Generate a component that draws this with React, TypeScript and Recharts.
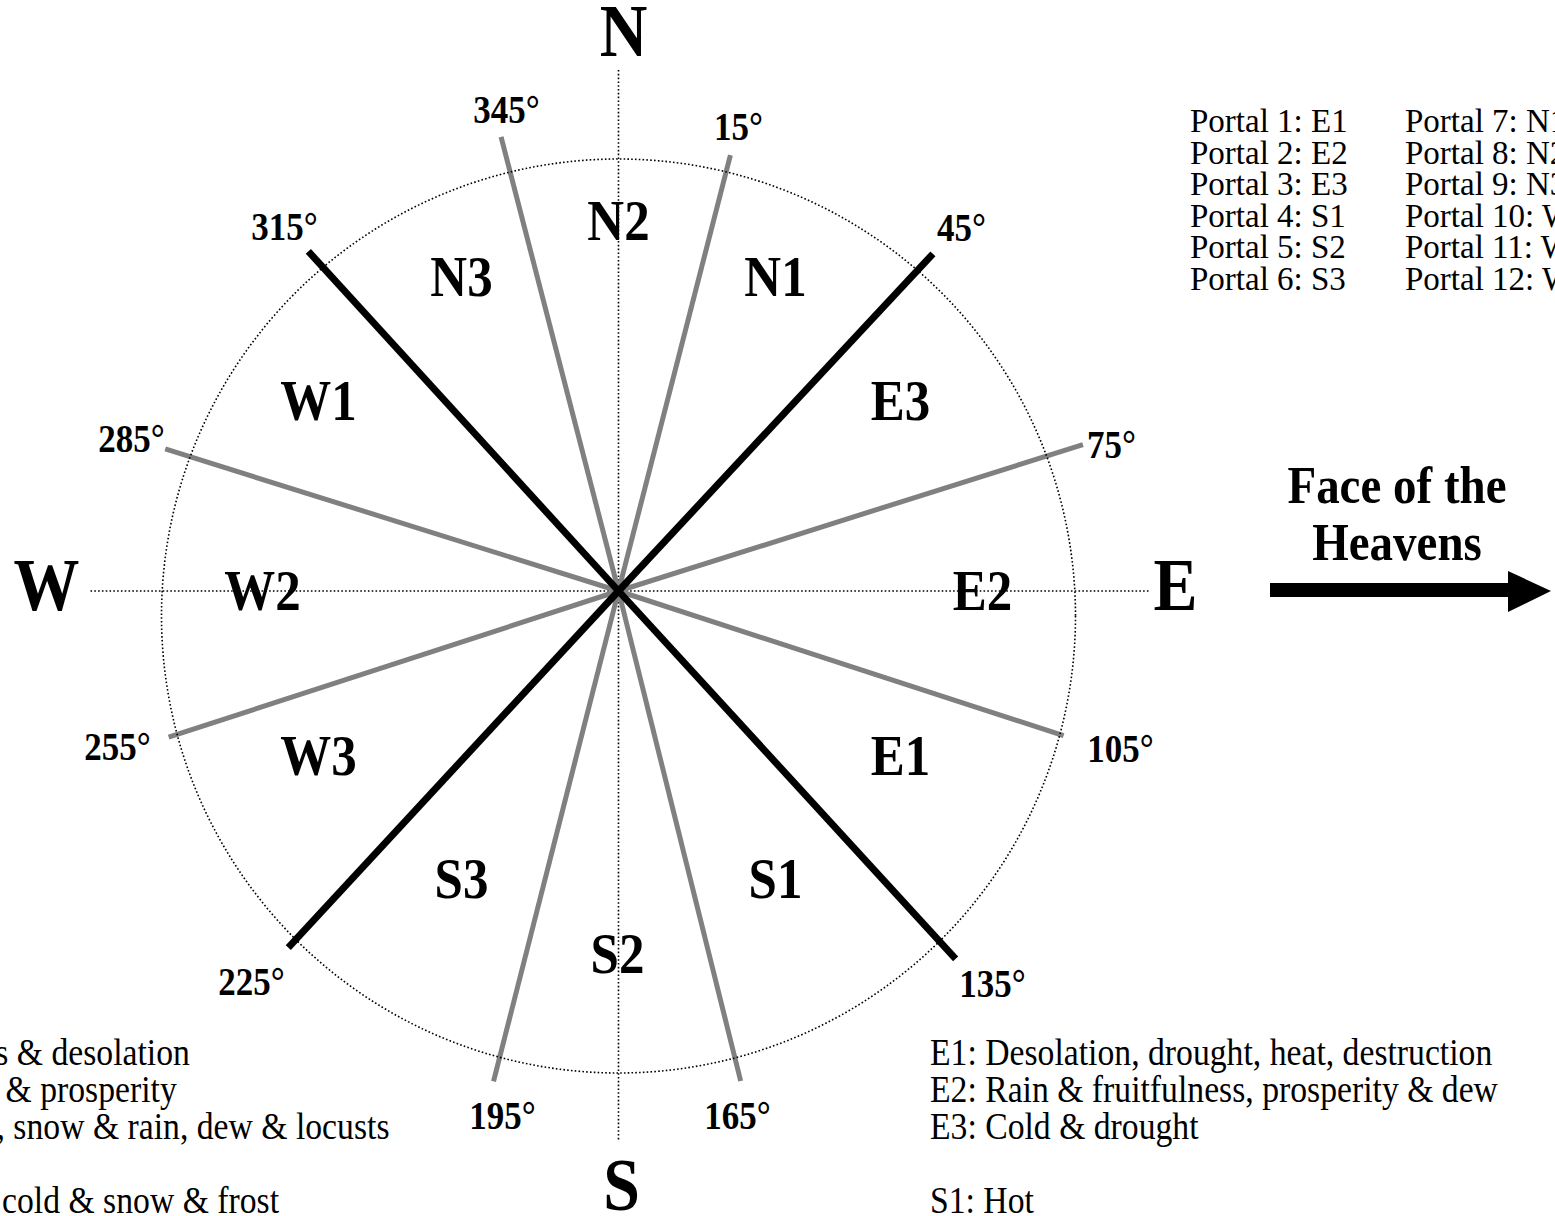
import React from 'react';
import { ScatterChart, Scatter, XAxis, YAxis, ReferenceLine, ReferenceDot } from 'recharts';

const W = 1555;
const H = 1216;
// where the hub of the spokes sits in the picture; one axis unit = one pixel
const HUB_X = 618.5;
const HUB_Y = 591;
const X_DOMAIN = [-HUB_X, W - HUB_X];
const Y_DOMAIN = [-(H - HUB_Y), HUB_Y];

const FONT = '"Liberation Serif", "Times New Roman", Times, serif';
const TEXT_STRETCH = 1.12;

// ---- data ----
const bearings = [15, 45, 75, 105, 135, 165, 195, 225, 255, 285, 315, 345];
// the spokes are not drawn at exactly their nominal bearing
const drawnAngle = [14.4, 43.0, 72.5, 108.0, 137.5, 166.0, 194.3, 222.8, 252.0, 287.4, 317.6, 345.5];
const reach = [450, 461, 487, 468, 499, 505, 506, 486, 473, 475, 460, 469];
const mainBearings = [45, 135, 225, 315];

const sectorNames = ['N1', 'E3', 'E2', 'E1', 'S1', 'S2', 'S3', 'W3', 'W2', 'W1', 'N3', 'N2'];
const compassLetters = ['N', 'E', 'S', 'W'];
const axisReach = [521, 531, 550, 528]; // N, E, S, W

const circleCenterDrop = 25;
const circleRadius = 457;

const portalWinds = ['E1', 'E2', 'E3', 'S1', 'S2', 'S3', 'N1', 'N2', 'N3', 'W1', 'W2', 'W3'];

const notesLeft = [
    'N1: Dew & rain, locusts & desolation',
    'N2: Health & rain, dew & prosperity',
    'N3: Cloud & hoar-frost, snow & rain, dew & locusts',
    '',
    'W1: Dew & hoar-frost, cold & snow & frost',
];
const notesRight = [
    'E1: Desolation, drought, heat, destruction',
    'E2: Rain & fruitfulness, prosperity & dew',
    'E3: Cold & drought',
    '',
    'S1: Hot',
];

// ---- label layout (axis units, hub at 0,0, y up) ----
const sectorAt: [number, number][] = [
    [157, 295], [282, 171], [364, -19], [282, -184], [157, -307], [-1, -382],
    [-157, -307], [-300, -184], [-356, -19], [-300, 171], [-157, 295], [0, 351],
];
const degreeAt: [number, number][] = [
    [120, 451], [343, 350], [493, 133], [502, -171], [374, -406], [119, -538],
    [-116, -538], [-367, -404], [-501, -169], [-487, 139], [-334, 351], [-112, 468],
];
const letterAt: [number, number][] = [[5, 535], [557, -19], [3, -619], [-572, -19]];

const rad = (d: number) => (d * Math.PI) / 180;

const spokes = bearings.map((b, i) => ({
    bearing: b,
    main: mainBearings.includes(b),
    end: { x: reach[i] * Math.sin(rad(drawnAngle[i])), y: reach[i] * Math.cos(rad(drawnAngle[i])) },
}));

const sectorData = sectorNames.map((t, i) => ({ x: sectorAt[i][0], y: sectorAt[i][1], text: t }));
const degreeData = bearings.map((b, i) => ({ x: degreeAt[i][0], y: degreeAt[i][1], text: `${b}\u00b0` }));
const letterData = compassLetters.map((t, i) => ({ x: letterAt[i][0], y: letterAt[i][1], text: t }));

const makeLabel = (size: number) => (props: any) => {
    const { cx, cy, payload } = props;
    if (cx == null || cy == null) return <g />;
    return (
        <text
            transform={`translate(${cx},${cy}) scale(1,${TEXT_STRETCH})`}
            textAnchor="middle"
            fontFamily={FONT}
            fontSize={size}
            fontWeight="bold"
            fill="#000"
        >
            {payload.text}
        </text>
    );
};

const dotted = { stroke: '#000', strokeWidth: 1.6, strokeDasharray: '1.6 2.2' };

function Notes({ lines, x }: { lines: string[]; x: number }) {
    return (
        <>
            {lines.map((t, i) =>
                t ? (
                    <text key={i} transform={`translate(${x},${1065 + i * 37}) scale(1,${TEXT_STRETCH})`} fontFamily={FONT} fontSize={33.7} fill="#000">
                        {t}
                    </text>
                ) : null
            )}
        </>
    );
}

export default function App() {
    return (
        <div style={{ position: 'absolute', left: 0, top: 0, width: W, height: H, overflow: 'hidden', background: '#fff' }}>
            <ScatterChart width={W} height={H} margin={{ top: 0, right: 0, bottom: 0, left: 0 }}>
                <XAxis type="number" dataKey="x" domain={X_DOMAIN} scale="linear" allowDataOverflow hide />
                <YAxis type="number" dataKey="y" domain={Y_DOMAIN} scale="linear" allowDataOverflow hide />

                <ReferenceDot x={0} y={-circleCenterDrop} r={circleRadius} fill="none" {...dotted} ifOverflow="visible" />

                <ReferenceLine segment={[{ x: 0, y: axisReach[0] }, { x: 0, y: -axisReach[2] }]} {...dotted} ifOverflow="visible" />
                <ReferenceLine segment={[{ x: -axisReach[3], y: 0 }, { x: axisReach[1], y: 0 }]} {...dotted} ifOverflow="visible" />

                {spokes.filter(s => !s.main).map(s => (
                    <ReferenceLine key={`g${s.bearing}`} segment={[{ x: 0, y: 0 }, s.end]} stroke="#808080" strokeWidth={5} ifOverflow="visible" />
                ))}
                {spokes.filter(s => s.main).map(s => (
                    <ReferenceLine key={`b${s.bearing}`} segment={[{ x: 0, y: 0 }, s.end]} stroke="#000" strokeWidth={7} ifOverflow="visible" />
                ))}

                <Scatter data={sectorData} shape={makeLabel(51)} isAnimationActive={false} />
                <Scatter data={degreeData} shape={makeLabel(35)} isAnimationActive={false} />
                <Scatter data={letterData} shape={makeLabel(66)} isAnimationActive={false} />
            </ScatterChart>

            <svg width={W} height={H} style={{ position: 'absolute', left: 0, top: 0, pointerEvents: 'none' }}>
                {portalWinds.map((p, i) => (
                    <text
                        key={p}
                        x={i < 6 ? 1190 : 1405}
                        y={132 + (i % 6) * 31.6}
                        fontFamily={FONT}
                        fontSize={33}
                        fill="#000"
                    >
                        {`Portal ${i + 1}: ${p}`}
                    </text>
                ))}

                <text transform={`translate(1397,503) scale(1,${TEXT_STRETCH})`} textAnchor="middle" fontFamily={FONT} fontSize={47} fontWeight="bold">Face of the</text>
                <text transform={`translate(1397,560) scale(1,${TEXT_STRETCH})`} textAnchor="middle" fontFamily={FONT} fontSize={47} fontWeight="bold">Heavens</text>
                <rect x={1270} y={583} width={240} height={14} fill="#000" />
                <polygon points="1508,571 1551,591 1508,612" fill="#000" />

                <Notes lines={notesLeft} x={-320} />
                <Notes lines={notesRight} x={930} />
            </svg>
        </div>
    );
}
